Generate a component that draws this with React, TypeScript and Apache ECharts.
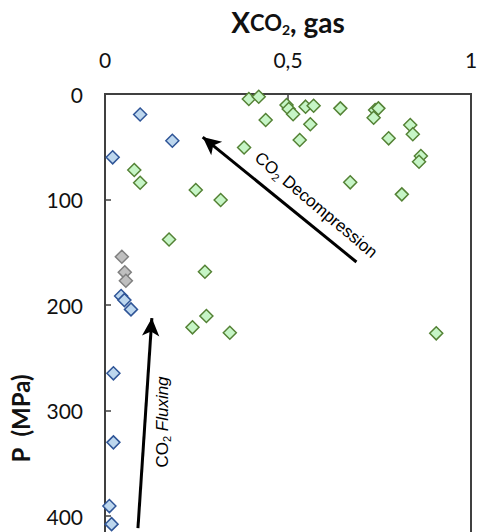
import React, { useEffect, useRef } from "react";
import * as echarts from "echarts";

// X_CO2 (gas) vs pressure P (MPa)
const greenPoints: [number, number][] = [
  [0.393, 4.7], [0.42, 2.6], [0.496, 10.4], [0.502, 14.2], [0.514, 19.2],
  [0.548, 12.0], [0.57, 11.1], [0.643, 13.6], [0.439, 24.6], [0.561, 28.7],
  [0.532, 43.6], [0.38, 50.7], [0.738, 15.2], [0.747, 13.6], [0.734, 22.5],
  [0.834, 29.4], [0.841, 38.2], [0.775, 42.0], [0.863, 58.8], [0.858, 64.2],
  [0.67, 83.7], [0.811, 95.1], [0.08, 72.0], [0.096, 84.1], [0.248, 91.0],
  [0.316, 100.5], [0.175, 137.9], [0.273, 168.4], [0.277, 210.4], [0.239, 221.1],
  [0.341, 226.3], [0.905, 226.8],
];
const bluePoints: [number, number][] = [
  [0.096, 19.4], [0.184, 44.3], [0.021, 60.0], [0.044, 191.5], [0.053, 195.3],
  [0.071, 204.1], [0.023, 264.7], [0.023, 330.1], [0.012, 390.5], [0.018, 407.6],
];
const grayPoints: [number, number][] = [
  [0.046, 154.2], [0.054, 169.0], [0.057, 177.0],
];
// arrows: [tail, tip]
const decompressionArrow: [number, number][] = [[0.687, 159.2], [0.267, 40.8]];
const fluxingArrow: [number, number][] = [[0.09, 411.4], [0.128, 212.3]];

const xTicks = { min: 0, max: 1, interval: 0.5 };
const yTicks = { min: 0, max: 615, interval: 100, lastLabel: 400 };

const AX = "#404040";

export default function App() {
  const ref = useRef<HTMLDivElement>(null);
  useEffect(() => {
    if (!ref.current) return;
    const chart = echarts.init(ref.current, null, { renderer: "svg" });
    const diamond = (fill: string, border: string) => ({
      type: "scatter",
      symbol: "diamond",
      symbolSize: 13,
      itemStyle: { color: fill, borderColor: border, borderWidth: 1.5, opacity: 1 },
      emphasis: { disabled: true },
    });
    chart.setOption({
      animation: false,
      textStyle: { fontFamily: "Lato" },
      grid: {
        left: 104,
        top: 94,
        width: 367,
        height: 649,
        show: true,
        borderColor: AX,
        borderWidth: 2,
        backgroundColor: "transparent",
      },
      xAxis: {
        type: "value",
        position: "top",
        min: xTicks.min,
        max: xTicks.max,
        interval: xTicks.interval,
        axisLine: { show: false },
        axisTick: { show: true, inside: true, length: 6, lineStyle: { color: AX, width: 1.5 } },
        splitLine: { show: false },
        axisLabel: {
          margin: 24,
          fontSize: 21,
          color: "#111",
          fontFamily: "Lato",
          formatter: (v: number) => String(v).replace(".", ","),
        },
        name: "{x|X}{c|CO}{s|2}{x|, gas}",
        nameLocation: "middle",
        nameGap: 58,
        nameTextStyle: {
          rich: {
            x: { fontSize: 28, fontWeight: "bold", fontFamily: "Lato", color: "#111" },
            c: { fontSize: 22, fontWeight: "bold", fontFamily: "Lato", color: "#111" },
            s: { fontSize: 14, fontWeight: "bold", fontFamily: "Lato", color: "#111", padding: [14, 0, 0, 0] },
          },
        },
      },
      yAxis: {
        type: "value",
        inverse: true,
        min: yTicks.min,
        max: yTicks.max,
        interval: yTicks.interval,
        axisLine: { show: false },
        axisTick: { show: true, inside: true, length: 6, lineStyle: { color: AX, width: 1.5 } },
        splitLine: { show: false },
        axisLabel: {
          margin: 22,
          fontSize: 21,
          color: "#111",
          fontFamily: "Lato",
          formatter: (v: number) => (v > yTicks.lastLabel ? "" : String(v)),
        },
        name: "P  (MPa)",
        nameLocation: "middle",
        nameGap: 73,
        nameTextStyle: { fontSize: 24, fontWeight: "bold", fontFamily: "Lato", color: "#111" },
      },
      series: [
        { ...diamond("#bfbfbf", "#7f7f7f"), data: grayPoints },
        { ...diamond("#bdd7ee", "#2f5597"), data: bluePoints },
        {
          ...diamond("#c6f5c6", "#548235"),
          data: greenPoints,
          markLine: {
            silent: true,
            animation: false,
            symbol: ["none", "arrow"],
            symbolSize: [13, 18],
            label: { show: false },
            emphasis: { disabled: true },
            lineStyle: { color: "#000", width: 3, type: "solid" },
            data: [
              [{ coord: decompressionArrow[0] }, { coord: decompressionArrow[1] }],
              [{ coord: fluxingArrow[0] }, { coord: fluxingArrow[1] }],
            ],
          },
        },
      ],
      graphic: [
        {
          type: "text",
          x: 316,
          y: 205,
          rotation: -0.7,
          style: {
            text: "{a|CO}{s|2}{a| Decompression}",
            align: "center",
            verticalAlign: "middle",
            rich: {
              a: { fontSize: 17, fontFamily: "Liberation Sans", fill: "#000" },
              s: { fontSize: 11, fontFamily: "Liberation Sans", fill: "#000", padding: [10, 0, 0, 0] },
            },
          },
        },
        {
          type: "text",
          x: 162,
          y: 422,
          rotation: Math.PI / 2,
          style: {
            text: "{a|CO}{s|2}{i| Fluxing}",
            align: "center",
            verticalAlign: "middle",
            rich: {
              a: { fontSize: 17, fontFamily: "Liberation Sans", fill: "#000" },
              i: { fontSize: 17, fontFamily: "Liberation Sans", fontStyle: "italic", fill: "#000" },
              s: { fontSize: 11, fontFamily: "Liberation Sans", fill: "#000", padding: [10, 0, 0, 0] },
            },
          },
        },
      ],
    });
    return () => chart.dispose();
  }, []);
  return (
    <div
      style={{
        position: "fixed",
        left: 0,
        top: 0,
        width: 485,
        height: 532,
        overflow: "hidden",
        background: "#fff",
      }}
    >
      <div ref={ref} style={{ width: 485, height: 820 }} />
    </div>
  );
}
